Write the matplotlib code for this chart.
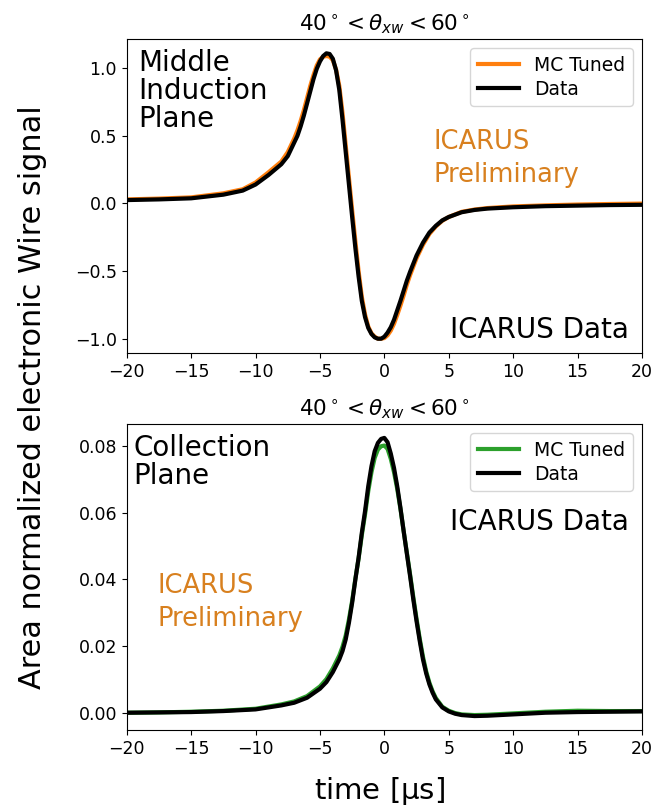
import matplotlib
matplotlib.use("Agg")
import matplotlib.pyplot as plt

# ---- middle induction plane, 40 < theta_xw < 60 ----
t_ind = [-20, -17.5, -15, -12.5, -11, -10, -9, -8.5, -8, -7.5, -7, -6.75,
         -6.5, -6.25, -6, -5.75, -5.5, -5.25, -5, -4.75, -4.5, -4.25, -4,
         -3.75, -3.5, -3.25, -3, -2.75, -2.5, -2.25, -2, -1.75, -1.5, -1.25,
         -1, -0.75, -0.5, -0.25, 0, 0.25, 0.5, 0.75, 1, 1.25, 1.5, 1.75, 2,
         2.5, 3, 3.5, 4, 4.5, 5, 6, 7, 8, 10, 12.5, 15, 17.5, 20]
ind_data = [0.025, 0.030, 0.038, 0.065, 0.095, 0.14, 0.21, 0.25, 0.29, 0.35,
            0.45, 0.50, 0.57, 0.65, 0.74, 0.83, 0.92, 0.995, 1.05, 1.09,
            1.11, 1.105, 1.07, 0.985, 0.84, 0.62, 0.38, 0.14, -0.10, -0.33,
            -0.54, -0.72, -0.84, -0.92, -0.965, -0.99, -1.0, -1.0, -0.985,
            -0.955, -0.915, -0.86, -0.79, -0.72, -0.645, -0.57, -0.505,
            -0.385, -0.29, -0.215, -0.165, -0.125, -0.10, -0.065, -0.048,
            -0.038, -0.028, -0.020, -0.016, -0.012, -0.010]
ind_mc = [0.030, 0.036, 0.045, 0.075, 0.105, 0.155, 0.23, 0.27, 0.31, 0.38,
          0.48, 0.54, 0.61, 0.69, 0.78, 0.87, 0.95, 1.02, 1.065, 1.085,
          1.09, 1.085, 1.06, 0.99, 0.87, 0.67, 0.43, 0.19, -0.05, -0.28,
          -0.50, -0.69, -0.82, -0.91, -0.96, -0.985, -1.0, -1.0, -0.995,
          -0.975, -0.94, -0.89, -0.825, -0.755, -0.68, -0.60, -0.53,
          -0.405, -0.305, -0.225, -0.17, -0.128, -0.10, -0.062, -0.045,
          -0.034, -0.022, -0.014, -0.008, -0.004, -0.001]

# ---- collection plane, 40 < theta_xw < 60 ----
t_col = [-20, -17.5, -15, -12.5, -10, -8, -7, -6, -5, -4.5, -4, -3.5, -3.25,
         -3, -2.75, -2.5, -2.25, -2, -1.75, -1.5, -1.25, -1, -0.75, -0.5,
         -0.25, 0, 0.25, 0.5, 0.75, 1, 1.25, 1.5, 1.75, 2, 2.25, 2.5, 2.75,
         3, 3.25, 3.5, 3.75, 4, 4.5, 5, 5.5, 6, 7, 8, 10, 12.5, 15, 17.5, 20]
col_data = [0.0000, 0.0001, 0.0002, 0.0005, 0.0010, 0.0022, 0.0030, 0.0045,
            0.0072, 0.0092, 0.0122, 0.0160, 0.0185, 0.0220, 0.0270, 0.0330,
            0.0400, 0.0465, 0.0540, 0.0605, 0.0680, 0.0740, 0.0785, 0.0810,
            0.0822, 0.0825, 0.0812, 0.0778, 0.0735, 0.0680, 0.0615, 0.0545,
            0.0477, 0.0410, 0.0340, 0.0275, 0.0215, 0.0160, 0.0118, 0.0085,
            0.0060, 0.0040, 0.0016, 0.0004, -0.0003, -0.0007, -0.0010,
            -0.0009, -0.0005, 0.0000, 0.0002, 0.0003, 0.0004]
col_mc = [0.0000, 0.0001, 0.0003, 0.0006, 0.0012, 0.0025, 0.0034, 0.0050,
          0.0079, 0.0101, 0.0133, 0.0172, 0.0198, 0.0232, 0.0280, 0.0336,
          0.0402, 0.0463, 0.0533, 0.0595, 0.0665, 0.0722, 0.0765, 0.0790,
          0.0800, 0.0802, 0.0792, 0.0762, 0.0722, 0.0672, 0.0612, 0.0545,
          0.0480, 0.0415, 0.0347, 0.0282, 0.0222, 0.0168, 0.0124, 0.0090,
          0.0064, 0.0044, 0.0018, 0.0006, -0.0001, -0.0005, -0.0007,
          -0.0006, -0.0002, 0.0003, 0.0006, 0.0005, 0.0005]

title = r"$40^\circ < \theta_{xw} < 60^\circ$"
prelim_color = "#d8801f"

fig = plt.figure(figsize=(6.57, 8.05), dpi=100)
ax1 = fig.add_axes([0.193, 0.5615, 0.784, 0.3900])
ax2 = fig.add_axes([0.193, 0.0932, 0.784, 0.3801])

legend_kw = dict(loc="upper right", fontsize=13.5, handlelength=2.2,
                 labelspacing=0.25, handletextpad=0.8)

# top: induction
ax1.plot(t_ind, ind_mc, color="#ff7f0e", lw=3, label="MC Tuned")
ax1.plot(t_ind, ind_data, color="black", lw=3, label="Data")
ax1.set_xlim(-20, 20)
ax1.set_title(title, fontsize=15.5)
ax1.legend(**legend_kw)
ax1.text(0.022, 0.968, "Middle\nInduction\nPlane", transform=ax1.transAxes,
         fontsize=20, va="top", ha="left", linespacing=1.0)
ax1.text(0.595, 0.62, "ICARUS\nPreliminary", transform=ax1.transAxes,
         fontsize=18.5, color=prelim_color, va="center", ha="left",
         linespacing=1.35)
ax1.text(0.975, 0.073, "ICARUS Data", transform=ax1.transAxes,
         fontsize=20, va="center", ha="right")

# bottom: collection
ax2.plot(t_col, col_mc, color="#2ca02c", lw=3, label="MC Tuned")
ax2.plot(t_col, col_data, color="black", lw=3, label="Data")
ax2.set_xlim(-20, 20)
ax2.set_yticks([0.0, 0.02, 0.04, 0.06, 0.08])
ax2.set_title(title, fontsize=15.5)
ax2.legend(**legend_kw)
ax2.text(0.013, 0.968, "Collection\nPlane", transform=ax2.transAxes,
         fontsize=20, va="top", ha="left", linespacing=1.0)
ax2.text(0.06, 0.418, "ICARUS\nPreliminary", transform=ax2.transAxes,
         fontsize=18.5, color=prelim_color, va="center", ha="left",
         linespacing=1.35)
ax2.text(0.975, 0.68, "ICARUS Data", transform=ax2.transAxes,
         fontsize=20, va="center", ha="right")

for ax in (ax1, ax2):
    ax.tick_params(labelsize=12.5)

fig.text(0.049, 0.507, "Area normalized electronic Wire signal",
         rotation=90, fontsize=21.8, ha="center", va="center")
fig.text(0.577, 0.018, r"time [$\mathrm{\mu}$s]", fontsize=21,
         ha="center", va="center")

fig.savefig("out.png", dpi=100)
